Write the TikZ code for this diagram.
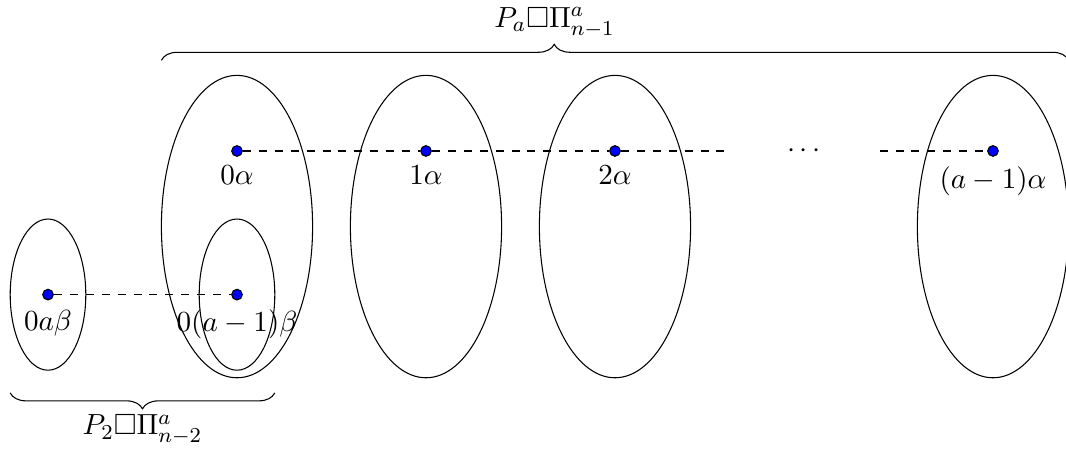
\documentclass[tikz,border=0pt]{standalone}
\usepackage{amssymb}
\usetikzlibrary{decorations.pathreplacing}
\begin{document}
\begin{tikzpicture}[font=\fontsize{11}{13.6}\selectfont,
        dot/.style={circle, draw, fill=blue, inner sep=0pt, minimum size=4pt},
        link/.style={dashed, semithick}]
            \useasboundingbox (-3.135,-3.955) rectangle (10.966,1.997);
            \foreach \x in {0,2.5,5,10}
                \draw (\x,-1) ellipse (1 and 2);
            \draw (-2.5,-1.9) ellipse (0.5 and 1);
            \draw (0,-1.9) ellipse (0.5 and 1);
            \node[dot, label=below:$0\alpha$] (a0) at (0,0) {};
            \node[dot, label=below:$1\alpha$] (a1) at (2.5,0) {};
            \node[dot, label=below:$2\alpha$] (a2) at (5,0) {};
            \node[dot, label=below:$(a-1)\alpha$] (a3) at (10,0) {};
            \node[dot, label=below:$0a\beta$] (b0) at (-2.5,-1.9) {};
            \node[dot, label=below:$0(a-1)\beta$] (b1) at (0,-1.9) {};
            \coordinate (d1) at (6.5,0);
            \coordinate (d2) at (8.5,0);
            \node (dd) at (7.5,0) {$\cdots$};
            \draw[link] (a0) -- (a1) -- (a2) -- (d1);
            \draw[link] (d2) -- (a3);
            \draw[link] (b0) -- (b1);
            \draw[decorate, decoration={brace, amplitude=6pt, aspect=0.433}] (-1,1.2) -- (11,1.2);
            \node (top) at (4.2,1.7) {$P_a\square\Pi^a_{n-1}$};
            \draw[decorate, decoration={brace, mirror, amplitude=6pt}] (-3,-3.2) -- (0.5,-3.2);
            \node (bot) at (-1.25,-3.69) {$P_2\square\Pi^a_{n-2}$};
        \end{tikzpicture}
\end{document}
